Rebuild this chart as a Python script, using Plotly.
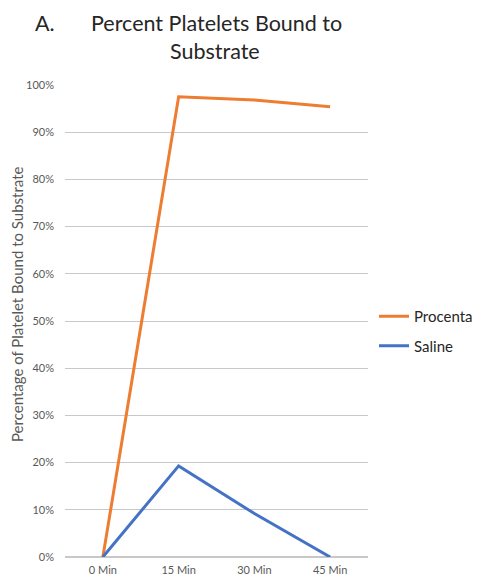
import plotly.graph_objects as go

categories = ["0 Min", "15 Min", "30 Min", "45 Min"]
procenta = [0.0, 0.975, 0.968, 0.954]
saline = [0.0, 0.193, 0.092, 0.0]
y_ticks = [0, 0.1, 0.2, 0.3, 0.4, 0.5, 0.6, 0.7, 0.8, 0.9, 1.0]

FONT = "Lato, Open Sans, sans-serif"

# page body has an 8px margin, so the figure is drawn 8px smaller
W, H = 474, 573
L, R, T, B = 57, 114, 77, 24
PW, PH = W - L - R, H - T - B

def px_x(x):
    return (x - L) / PW

def px_y(y):
    return (H - B - y) / PH

fig = go.Figure()
fig.add_trace(go.Scatter(x=categories, y=procenta, mode="lines", name="Procenta",
                         legendgroup="a", line=dict(color="#ED7D31", width=3)))
fig.add_trace(go.Scatter(x=categories, y=saline, mode="lines", name="Saline",
                         legendgroup="b", line=dict(color="#4472C4", width=3)))

title_font = dict(size=21.5, color="#262626", family=FONT)
fig.update_layout(
    width=W, height=H,
    paper_bgcolor="white", plot_bgcolor="white",
    margin=dict(l=L, r=R, t=T, b=B, autoexpand=False),
    font=dict(family=FONT, color="#595959"),
    showlegend=True,
    legend=dict(xref="container", yref="container", x=366 / W, y=1 - 323 / H,
                xanchor="left", yanchor="middle",
                traceorder="grouped", tracegroupgap=7,
                font=dict(size=15, color="#262626", family=FONT),
                bgcolor="rgba(0,0,0,0)"),
    annotations=[
        dict(text="A.", xref="paper", yref="paper", x=px_x(25), y=px_y(15),
             xanchor="left", yanchor="middle", showarrow=False, font=title_font),
        dict(text="Percent Platelets Bound to", xref="paper", yref="paper",
             x=px_x(208), y=px_y(15), xanchor="center", yanchor="middle",
             showarrow=False, font=title_font),
        dict(text="Substrate", xref="paper", yref="paper",
             x=px_x(207), y=px_y(43), xanchor="center", yanchor="middle",
             showarrow=False, font=title_font),
        dict(text="Percentage of Platelet Bound to Substrate", xref="paper", yref="paper",
             x=px_x(9), y=px_y(297), xanchor="center", yanchor="middle", textangle=-90,
             showarrow=False, font=dict(size=15, color="#595959", family=FONT)),
    ],
)
fig.update_xaxes(type="category", range=[-0.5, 3.5], showgrid=False, showline=False,
                 ticks="", ticklabelstandoff=5, tickfont=dict(size=11, color="#595959"))
fig.update_yaxes(range=[0, 1.0], tickvals=y_ticks, tickformat=".0%", showgrid=True,
                 gridcolor="#C8C8C8", gridwidth=1, zeroline=True, zerolinecolor="#C8C8C8",
                 showline=False, ticks="", ticklabelstandoff=10,
                 tickfont=dict(size=11, color="#595959"))

fig.write_html("out.html")
